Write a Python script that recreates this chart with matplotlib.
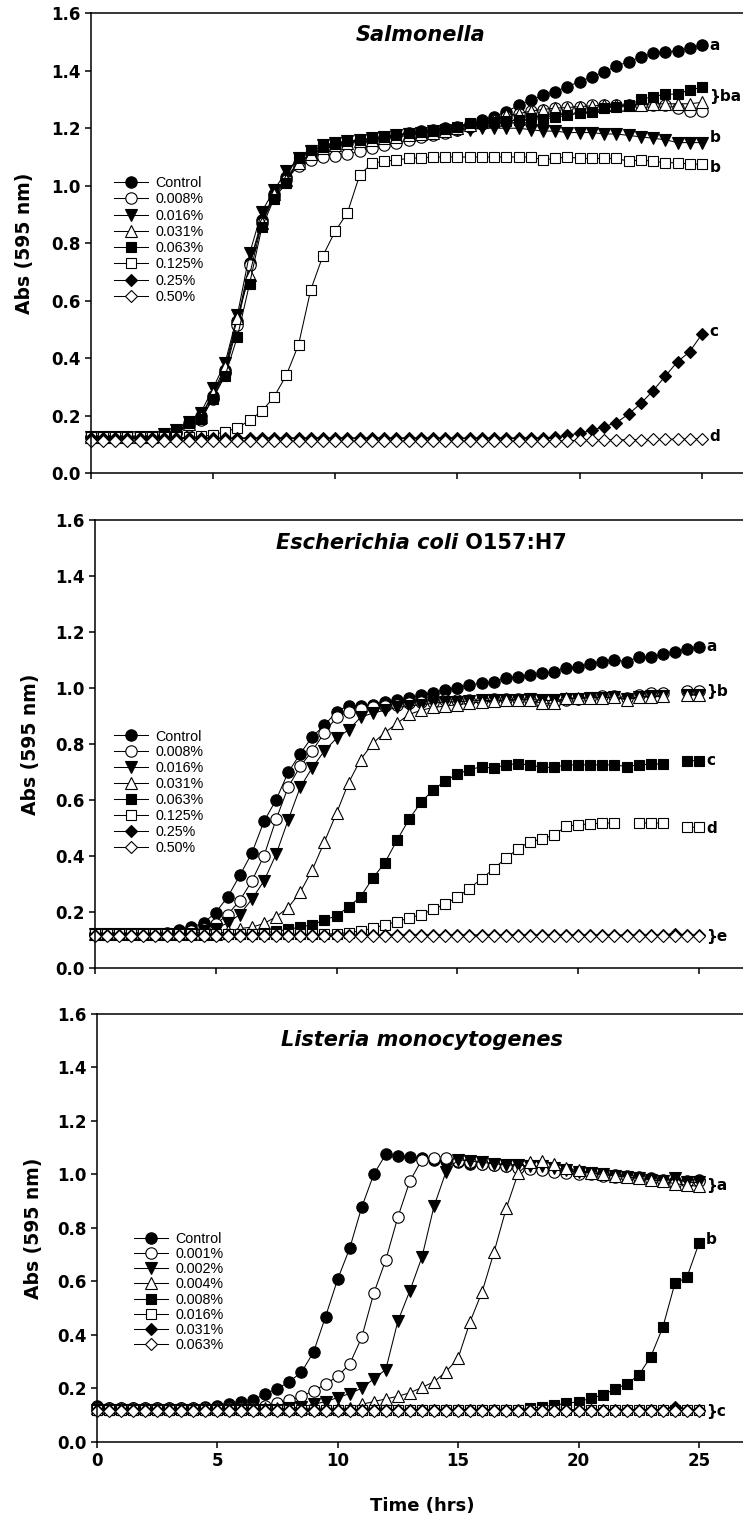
import numpy as np
import matplotlib.pyplot as plt
from matplotlib.offsetbox import TextArea, HPacker, AnchoredOffsetbox

nan = np.nan

# sampling times (hrs)
hours = [0.0, 0.5, 1.0, 1.5, 2.0, 2.5, 3.0, 3.5, 4.0, 4.5, 5.0, 5.5, 6.0, 6.5,
         7.0, 7.5, 8.0, 8.5, 9.0, 9.5, 10.0, 10.5, 11.0, 11.5, 12.0, 12.5,
         13.0, 13.5, 14.0, 14.5, 15.0, 15.5, 16.0, 16.5, 17.0, 17.5, 18.0,
         18.5, 19.0, 19.5, 20.0, 20.5, 21.0, 21.5, 22.0, 22.5, 23.0, 23.5,
         24.0, 24.5, 25.0]

# ---- Salmonella ----
sal_labels = ["Control", "0.008%", "0.016%", "0.031%", "0.063%", "0.125%", "0.25%", "0.50%"]
sal_control = [0.125, 0.125, 0.125, 0.125, 0.125, 0.125, 0.13, 0.145, 0.175, 0.20, 0.27, 0.36,
               0.53, 0.73, 0.88, 0.97, 1.03, 1.08, 1.11, 1.125, 1.14, 1.15, 1.155, 1.16, 1.17,
               1.175, 1.185, 1.19, 1.195, 1.20, 1.205, 1.215, 1.228, 1.24, 1.257, 1.28, 1.298,
               1.315, 1.327, 1.345, 1.362, 1.379, 1.396, 1.416, 1.431, 1.448, 1.46, 1.466,
               1.469, 1.478, 1.489]
sal_008 = [0.125, 0.125, 0.125, 0.125, 0.125, 0.125, 0.13, 0.14, 0.165, 0.185, 0.26, 0.35,
           0.515, 0.725, 0.87, 0.96, 1.02, 1.07, 1.09, 1.10, 1.105, 1.11, 1.12, 1.13, 1.14,
           1.15, 1.16, 1.17, 1.175, 1.185, 1.195, 1.205, 1.215, 1.225, 1.24, 1.25, 1.26,
           1.265, 1.27, 1.275, 1.275, 1.28, 1.28, 1.28, 1.28, 1.28, 1.28, 1.28, 1.27, 1.26,
           1.26]
sal_016 = [0.125, 0.125, 0.125, 0.125, 0.125, 0.125, 0.135, 0.15, 0.18, 0.21, 0.295, 0.385,
           0.55, 0.765, 0.91, 0.985, 1.05, 1.095, 1.12, 1.14, 1.15, 1.155, 1.16, 1.165, 1.17,
           1.175, 1.18, 1.185, 1.19, 1.19, 1.195, 1.195, 1.2, 1.2, 1.2, 1.2, 1.195, 1.19,
           1.19, 1.185, 1.185, 1.185, 1.18, 1.18, 1.175, 1.17, 1.165, 1.16, 1.15, 1.15, 1.15]
sal_031 = [0.125, 0.125, 0.125, 0.125, 0.125, 0.125, 0.13, 0.14, 0.17, 0.195, 0.28, 0.37,
           0.54, 0.69, 0.87, 0.97, 1.02, 1.08, 1.11, 1.13, 1.14, 1.15, 1.155, 1.16, 1.165,
           1.17, 1.175, 1.18, 1.185, 1.19, 1.20, 1.21, 1.22, 1.23, 1.245, 1.25, 1.26, 1.265,
           1.27, 1.272, 1.275, 1.278, 1.28, 1.28, 1.28, 1.282, 1.285, 1.285, 1.285, 1.285,
           1.29]
sal_063 = [0.125, 0.125, 0.125, 0.125, 0.125, 0.125, 0.135, 0.145, 0.175, 0.19, 0.26, 0.34,
           0.475, 0.66, 0.855, 0.955, 1.01, 1.095, 1.125, 1.135, 1.145, 1.155, 1.16, 1.165,
           1.17, 1.175, 1.182, 1.186, 1.19, 1.198, 1.205, 1.217, 1.22, 1.22, 1.225, 1.228,
           1.234, 1.231, 1.238, 1.246, 1.252, 1.257, 1.27, 1.275, 1.28, 1.30, 1.31, 1.318,
           1.319, 1.333, 1.342]
sal_125 = [0.125, 0.125, 0.125, 0.125, 0.125, 0.125, 0.125, 0.125, 0.125, 0.128, 0.133, 0.145,
           0.157, 0.185, 0.216, 0.266, 0.341, 0.447, 0.638, 0.757, 0.842, 0.906, 1.037, 1.078,
           1.085, 1.09, 1.095, 1.097, 1.10, 1.10, 1.10, 1.10, 1.10, 1.10, 1.10, 1.10, 1.10,
           1.09, 1.095, 1.10, 1.095, 1.095, 1.095, 1.095, 1.085, 1.09, 1.085, 1.08, 1.08,
           1.075, 1.075]
sal_25 = [0.123] * 38 + [0.125, 0.133, 0.139, 0.15, 0.162, 0.176, 0.206, 0.243, 0.287,
                         0.338, 0.388, 0.423, 0.484]
sal_50 = [0.113] * 40 + [0.115, 0.115, 0.116, 0.116, 0.117, 0.117, 0.118, 0.118, 0.119,
                         0.12, 0.12]

# ---- Escherichia coli O157:H7 ----
eco_labels = sal_labels
eco_control = [0.12, 0.12, 0.12, 0.12, 0.12, 0.12, 0.125, 0.135, 0.145, 0.16, 0.197, 0.253,
               0.33, 0.41, 0.523, 0.60, 0.698, 0.765, 0.826, 0.866, 0.915, 0.937, 0.937, 0.94,
               0.95, 0.957, 0.963, 0.975, 0.983, 0.993, 1.0, 1.01, 1.017, 1.022, 1.034, 1.04,
               1.046, 1.052, 1.058, 1.07, 1.076, 1.085, 1.094, 1.10, 1.094, 1.11, 1.11, 1.12,
               1.13, 1.138, 1.145]
eco_008 = [0.12, 0.12, 0.12, 0.12, 0.12, 0.12, 0.12, 0.125, 0.13, 0.14, 0.155, 0.19, 0.24,
           0.31, 0.40, 0.53, 0.645, 0.72, 0.775, 0.84, 0.895, 0.915, 0.925, 0.93, 0.935,
           0.94, 0.945, 0.95, 0.95, 0.955, 0.955, 0.955, 0.958, 0.96, 0.96, 0.96, 0.958,
           0.945, 0.945, 0.955, 0.96, 0.965, 0.97, 0.97, 0.965, 0.975, 0.98, 0.98, nan,
           0.99, 0.99]
eco_016 = [0.12, 0.12, 0.12, 0.12, 0.12, 0.12, 0.12, 0.12, 0.12, 0.13, 0.14, 0.16, 0.19,
           0.245, 0.31, 0.405, 0.528, 0.645, 0.715, 0.775, 0.82, 0.85, 0.895, 0.91, 0.92,
           0.93, 0.935, 0.94, 0.945, 0.95, 0.95, 0.953, 0.955, 0.955, 0.958, 0.958, 0.96,
           0.955, 0.955, 0.96, 0.962, 0.965, 0.965, 0.968, 0.96, 0.968, 0.97, 0.972, nan,
           0.975, 0.975]
eco_031 = [0.12, 0.12, 0.12, 0.12, 0.12, 0.12, 0.12, 0.12, 0.12, 0.12, 0.12, 0.13, 0.14,
           0.145, 0.158, 0.182, 0.215, 0.27, 0.35, 0.45, 0.552, 0.661, 0.744, 0.802, 0.84,
           0.873, 0.905, 0.92, 0.93, 0.935, 0.94, 0.945, 0.95, 0.952, 0.955, 0.957, 0.957,
           0.945, 0.945, 0.963, 0.963, 0.965, 0.965, 0.967, 0.957, 0.967, 0.968, 0.97, nan,
           0.975, 0.975]
eco_063 = [0.12] * 14 + [0.125, 0.13, 0.137, 0.145, 0.154, 0.17, 0.186, 0.217, 0.254, 0.32,
                         0.375, 0.455, 0.53, 0.592, 0.635, 0.668, 0.692, 0.708, 0.718,
                         0.713, 0.725, 0.729, 0.725, 0.716, 0.716, 0.725, 0.725, 0.725,
                         0.725, 0.725, 0.719, 0.725, 0.728, 0.728, nan, 0.74, 0.74]
eco_125 = [0.12] * 20 + [0.122, 0.125, 0.132, 0.141, 0.153, 0.165, 0.177, 0.19, 0.208,
                         0.228, 0.252, 0.283, 0.318, 0.353, 0.391, 0.424, 0.451, 0.459,
                         0.475, 0.505, 0.511, 0.514, 0.517, 0.517, nan, 0.517, 0.517,
                         0.517, nan, 0.502, 0.502]
eco_25 = [0.117] * 48 + [0.122, 0.117, 0.117]
eco_50 = [0.113] * 51

# ---- Listeria monocytogenes ----
lis_labels = ["Control", "0.001%", "0.002%", "0.004%", "0.008%", "0.016%", "0.031%", "0.063%"]
lis_control = [0.135, 0.125, 0.125, 0.125, 0.125, 0.125, 0.125, 0.125, 0.125, 0.13, 0.135,
               0.14, 0.148, 0.155, 0.18, 0.198, 0.225, 0.26, 0.335, 0.468, 0.607, 0.723,
               0.877, 1.0, 1.075, 1.07, 1.065, 1.06, 1.055, 1.05, 1.045, 1.04, 1.038, 1.035,
               1.03, 1.028, 1.025, 1.02, 1.018, 1.015, 1.01, 1.005, 1.0, 0.998, 0.995, 0.99,
               0.985, 0.98, 0.975, 0.975, 0.98]
lis_001 = [0.125] * 14 + [0.135, 0.145, 0.155, 0.17, 0.19, 0.215, 0.245, 0.29, 0.39, 0.555,
                          0.68, 0.84, 0.975, 1.055, 1.06, 1.06, 1.05, 1.045, 1.04, 1.035,
                          1.03, 1.025, 1.02, 1.015, 1.01, 1.005, 1.0, 1.0, 0.995, 0.99,
                          0.99, 0.985, 0.98, 0.975, 0.965, 0.97, 0.975]
lis_002 = [0.12] * 16 + [0.125, 0.13, 0.14, 0.15, 0.165, 0.18, 0.2, 0.235, 0.27, 0.45,
                         0.565, 0.69, 0.88, 1.01, 1.055, 1.05, 1.045, 1.04, 1.035, 1.035,
                         1.03, 1.03, 1.025, 1.015, 1.01, 1.005, 1.0, 0.995, 0.99, 0.985,
                         0.98, 0.975, 0.985, 0.97, 0.97]
lis_004 = [0.125] * 22 + [0.14, 0.15, 0.16, 0.17, 0.183, 0.203, 0.224, 0.262, 0.312, 0.449,
                          0.561, 0.711, 0.873, 1.006, 1.045, 1.05, 1.04, 1.025, 1.015,
                          1.005, 1.0, 0.995, 0.99, 0.985, 0.98, 0.975, 0.965, 0.96, 0.955]
lis_008 = [0.12] * 36 + [0.125, 0.131, 0.137, 0.143, 0.15, 0.162, 0.175, 0.196, 0.216,
                         0.249, 0.318, 0.428, 0.592, 0.615, 0.742]
lis_016 = [0.12] * 51
lis_031 = [0.12] * 48 + [0.13, 0.12, 0.12]
lis_063 = [0.115] * 51

# letters at the right end of the curves: (y value, text)
sal_letters = [(1.489, "a"), (1.31, "}ba"), (1.168, "b"), (1.064, "b"), (0.492, "c"), (0.127, "d")]
eco_letters = [(1.147, "a"), (0.986, "}b"), (0.742, "c"), (0.499, "d"), (0.111, "}e")]
lis_letters = [(0.96, "}a"), (0.755, "b"), (0.112, "}c")]

MARKERS = ["o", "o", "v", "^", "s", "s", "D", "D"]
FACES = ["k", "w", "k", "w", "k", "w", "k", "w"]
SIZES = [8.2, 8.2, 8.0, 8.0, 7.2, 7.2, 6.2, 6.2]

W, H = 743, 1527
X_MAX = 27
BOLD = dict(family="DejaVu Sans", fontweight="bold")

fig = plt.figure(figsize=(W / 100, H / 100), dpi=100)


def make_axes(left, top, bottom, ppu):
    return fig.add_axes([left / W, 1 - bottom / H, X_MAX * ppu / W, (bottom - top) / H])


def draw_panel(ax, series, labels, letters, leg_x, leg_y, leg_space, ylab_x, show_x):
    lines = []
    for vals, m, fc, ms, lab in zip(series, MARKERS, FACES, SIZES, labels):
        (ln,) = ax.plot(hours, vals, color="k", lw=0.75, marker=m, mfc=fc, mec="k",
                        mew=0.8, ms=ms, label=lab, clip_on=False)
        lines.append(ln)
    ax.set_xlim(0, X_MAX)
    ax.set_ylim(0, 1.6)
    ax.set_xticks([0, 5, 10, 15, 20, 25])
    ax.set_yticks([0.0, 0.2, 0.4, 0.6, 0.8, 1.0, 1.2, 1.4, 1.6])
    ax.set_yticklabels(["%.1f" % v for v in ax.get_yticks()], **BOLD, fontsize=12)
    ax.set_xticklabels([str(v) for v in [0, 5, 10, 15, 20, 25]], **BOLD, fontsize=12)
    ax.tick_params(direction="out", length=4.5, width=1.1, pad=3,
                   labelbottom=show_x, top=False, right=False)
    for s in ax.spines.values():
        s.set_linewidth(1.1)
    ax.spines["right"].set_visible(False)

    ax.set_ylabel("Abs (595 nm)", **BOLD, fontsize=13.5)
    bb = ax.get_position()
    ax.yaxis.set_label_coords((ylab_x - bb.x0 * W) / (bb.width * W), 0.5)

    for yv, txt in letters:
        ax.text(25.3, yv, txt, ha="left", va="center", fontsize=11, **BOLD)

    leg = ax.legend(lines, labels, loc="upper left",
                    bbox_to_anchor=(leg_x / W, 1 - leg_y / H), bbox_transform=fig.transFigure,
                    frameon=False, handlelength=2.35, handletextpad=0.55,
                    labelspacing=leg_space, borderpad=0, borderaxespad=0,
                    prop=dict(family="Liberation Sans", size=10.3))
    return leg


def panel_title(ax, parts, yfrac):
    boxes = [TextArea(t, textprops=dict(family="DejaVu Sans", fontweight="bold",
                                        fontstyle=st, fontsize=15)) for t, st in parts]
    pack = HPacker(children=boxes, align="baseline", pad=0, sep=0)
    anc = AnchoredOffsetbox(loc="center", child=pack, pad=0, borderpad=0, frameon=False,
                            bbox_to_anchor=(0.5, yfrac), bbox_transform=ax.transAxes)
    ax.add_artist(anc)


ax1 = make_axes(90.7, 13.2, 473.3, 24.45)
ax2 = make_axes(94.8, 520.0, 967.7, 24.17)
ax3 = make_axes(96.7, 1014.0, 1441.7, 24.09)

draw_panel(ax1, [sal_control, sal_008, sal_016, sal_031, sal_063, sal_125, sal_25, sal_50],
           sal_labels, sal_letters, 114, 176, 0.16, 34, False)
draw_panel(ax2, [eco_control, eco_008, eco_016, eco_031, eco_063, eco_125, eco_25, eco_50],
           eco_labels, eco_letters, 114, 729.5, 0.13, 40, False)
draw_panel(ax3, [lis_control, lis_001, lis_002, lis_004, lis_008, lis_016, lis_031, lis_063],
           lis_labels, lis_letters, 134, 1232, 0.08, 43, True)

panel_title(ax1, [("Salmonella", "italic")], 0.953)
panel_title(ax2, [("Escherichia coli", "italic"), (" O157:H7", "normal")], 0.949)
panel_title(ax3, [("Listeria monocytogenes", "italic")], 0.939)

ax3.set_xlabel("Time (hrs)", **BOLD, fontsize=13)
ax3.xaxis.set_label_coords(0.5, -(1497 - 1441.7) / (1441.7 - 1014.0))

fig.savefig("out.png", dpi=100)
